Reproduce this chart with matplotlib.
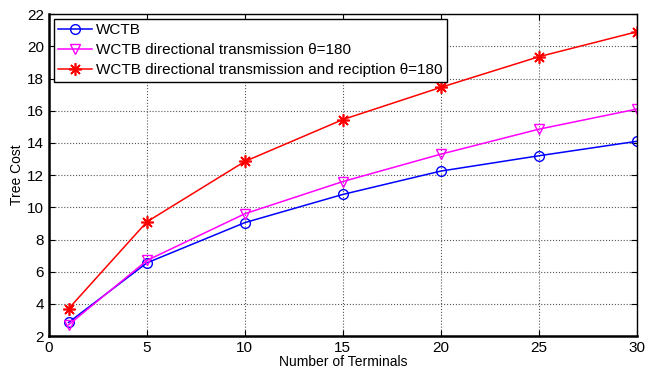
import matplotlib.pyplot as plt

plt.rcParams['font.family'] = ['Liberation Sans', 'DejaVu Sans']

terminales = [1, 5, 10, 15, 20, 25, 30]
wctb = [2.85, 6.55, 9.05, 10.8, 12.25, 13.2, 14.1]
wctb_tx = [2.7, 6.7, 9.6, 11.6, 13.3, 14.85, 16.1]
wctb_txrx = [3.7, 9.1, 12.85, 15.45, 17.45, 19.35, 20.9]

etiquetas = ['WCTB',
             'WCTB directional transmission \u03b8=180',
             'WCTB directional transmission and reciption \u03b8=180']

fig = plt.figure(figsize=(6.53, 3.71), dpi=100)
ax = fig.add_axes([0.075, 0.094, 0.9, 0.868])

ax.plot(terminales, wctb, color='blue', marker='o', markersize=7,
        markerfacecolor='none', linewidth=1.1, label=etiquetas[0])
ax.plot(terminales, wctb_tx, color='magenta', marker='v', markersize=7,
        markerfacecolor='none', linewidth=1.1, label=etiquetas[1])
ax.plot(terminales, wctb_txrx, color='red', marker=(8, 2, 0), markersize=9,
        markeredgewidth=1.2, linewidth=1.1, label=etiquetas[2])

ax.set_xlim(0, 30)
ax.set_ylim(2, 22)
ax.set_xticks([0, 5, 10, 15, 20, 25, 30])
ax.set_yticks(range(2, 23, 2))
ax.tick_params(direction='in', top=True, right=True, labelsize=11, length=4)
ax.grid(True, linestyle=':', color='#555555', linewidth=0.8)
for lado in ax.spines.values():
    lado.set_linewidth(1.0)
ax.spines['bottom'].set_linewidth(1.8)
ax.spines['left'].set_linewidth(1.8)

ax.set_xlabel('Number of Terminals', fontsize=10, labelpad=0)
ax.set_ylabel('Tree Cost', fontsize=10, labelpad=2)

leg = ax.legend(loc='upper left', fontsize=11, fancybox=False, framealpha=1,
                edgecolor='black', borderaxespad=0.3, handlelength=2.2,
                handletextpad=0.3, borderpad=0.3, labelspacing=0.4)
leg.get_frame().set_linewidth(1.0)

fig.savefig('out.png', dpi=100)
